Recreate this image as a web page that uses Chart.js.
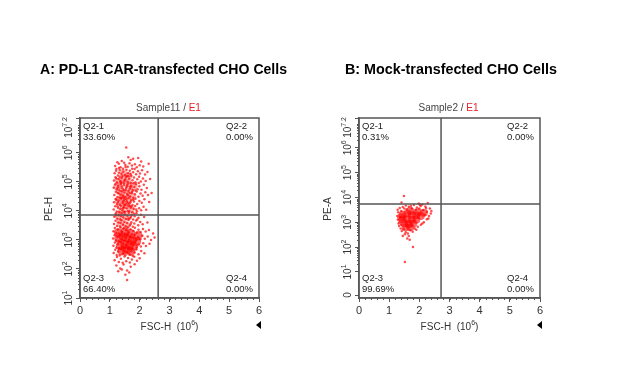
<!DOCTYPE html>
<html>
<head>
<meta charset="utf-8">
<script src="https://cdn.jsdelivr.net/npm/chart.js@4.4.1/dist/chart.umd.min.js"></script>
<style>
  html, body { margin: 0; padding: 0; background: #fff; }
  #wrap { position: relative; width: 629px; height: 388px; overflow: hidden; }
  canvas { position: absolute; top: 0; }
  #chartA { left: 0; }
  #chartB { left: 314px; }
</style>
</head>
<body>
<div id="wrap">
  <canvas id="chartA" width="314" height="388"></canvas>
  <canvas id="chartB" width="315" height="388"></canvas>
</div>
<script>
// axes
const xTicks = [0, 1, 2, 3, 4, 5, 6];
const yTicksA = [1, 2, 3, 4, 5, 6, 7.2];
const yExpA = ["1", "2", "3", "4", "5", "6", "7.2"];
const yTicksB = [0.07, 1, 2, 3, 4, 5, 6, 7.2];
const yExpB = [null, "1", "2", "3", "4", "5", "6", "7.2"];

// quadrant gates (x in 10^6 FSC-H, y in decades)
const gateXA = 2.62, gateYA = 3.86;
const gateXB = 2.72, gateYB = 3.74;

const quadNames = ["Q2-1", "Q2-2", "Q2-3", "Q2-4"];
const quadPctA = ["33.60%", "0.00%", "66.40%", "0.00%"];
const quadPctB = ["0.31%", "0.00%", "99.69%", "0.00%"];

// sample A, PE-H positive group + bridge
const aUpper = [
  [1.55,6.18],[1.62,5.85],[1.78,5.80],[1.95,5.82],[1.40,5.72],[1.25,5.68],[2.05,5.70],[1.70,5.75],
  [1.18,5.55],[1.30,5.62],[1.36,5.50],[1.48,5.66],[1.52,5.58],[1.60,5.52],[1.66,5.64],[1.74,5.56],[1.84,5.61],[1.90,5.50],[2.00,5.57],[2.12,5.53],[2.30,5.62],[1.44,5.45],[1.22,5.44],
  [1.16,5.30],[1.21,5.38],[1.27,5.22],[1.33,5.41],[1.39,5.28],[1.45,5.35],[1.50,5.24],[1.56,5.42],[1.61,5.30],[1.67,5.38],[1.72,5.21],[1.78,5.33],[1.83,5.44],[1.88,5.26],[1.94,5.37],[2.01,5.29],[2.08,5.40],[2.18,5.25],[2.26,5.34],[1.30,5.31],[1.58,5.20],[1.75,5.45],[1.42,5.20],
  [1.14,5.05],[1.19,5.16],[1.24,4.98],[1.29,5.10],[1.35,5.02],[1.40,5.14],[1.46,4.96],[1.51,5.08],[1.55,5.17],[1.60,5.00],[1.65,5.11],[1.70,4.97],[1.76,5.06],[1.81,5.15],[1.86,4.99],[1.92,5.09],[1.98,5.18],[2.04,5.01],[2.11,5.12],[2.20,5.03],[2.35,5.10],[1.33,5.18],[1.63,5.19],[1.48,5.04],
  [1.13,4.80],[1.18,4.91],[1.23,4.74],[1.28,4.86],[1.32,4.70],[1.37,4.93],[1.42,4.78],[1.47,4.88],[1.52,4.72],[1.57,4.84],[1.62,4.94],[1.67,4.76],[1.72,4.87],[1.77,4.71],[1.82,4.82],[1.87,4.92],[1.93,4.75],[1.99,4.85],[2.06,4.73],[2.14,4.90],[2.24,4.79],[1.40,4.85],[1.54,4.79],[1.69,4.82],[1.26,4.80],
  [1.15,4.55],[1.20,4.66],[1.25,4.48],[1.30,4.60],[1.34,4.46],[1.39,4.68],[1.44,4.52],[1.49,4.63],[1.53,4.47],[1.58,4.58],[1.63,4.69],[1.68,4.50],[1.73,4.61],[1.79,4.45],[1.84,4.57],[1.90,4.67],[1.96,4.49],[2.03,4.60],[2.10,4.52],[2.19,4.64],[2.28,4.55],[1.36,4.56],[1.61,4.54],[1.75,4.66],[1.47,4.45],
  [1.14,4.30],[1.19,4.41],[1.24,4.23],[1.29,4.35],[1.33,4.21],[1.38,4.43],[1.43,4.27],[1.48,4.38],[1.52,4.22],[1.57,4.33],[1.62,4.44],[1.66,4.25],[1.71,4.36],[1.76,4.20],[1.81,4.32],[1.86,4.42],[1.92,4.24],[1.99,4.34],[2.07,4.28],[2.16,4.40],[2.32,4.31],[1.27,4.29],[1.55,4.40],[1.69,4.30],[1.45,4.33],
  [1.13,4.05],[1.18,4.16],[1.23,3.98],[1.28,4.10],[1.32,3.96],[1.37,4.18],[1.42,4.02],[1.47,4.13],[1.51,3.97],[1.56,4.08],[1.61,4.19],[1.65,4.00],[1.70,4.11],[1.75,3.95],[1.80,4.07],[1.85,4.17],[1.91,3.99],[1.98,4.09],[2.05,4.02],[2.13,4.14],[2.22,4.04],[1.35,4.07],[1.59,3.99],[1.73,4.15],[1.44,4.09],
  [1.15,3.80],[1.20,3.91],[1.25,3.73],[1.30,3.85],[1.35,3.71],[1.40,3.93],[1.45,3.77],[1.50,3.88],[1.54,3.72],[1.59,3.83],[1.64,3.94],[1.68,3.75],[1.73,3.86],[1.78,3.70],[1.83,3.82],[1.89,3.92],[1.96,3.76],[2.04,3.87],[2.15,3.79],[1.38,3.82],[1.62,3.74],[1.81,3.90],
  [1.14,3.55],[1.19,3.66],[1.24,3.48],[1.29,3.60],[1.34,3.46],[1.39,3.68],[1.44,3.52],[1.49,3.63],[1.53,3.47],[1.58,3.58],[1.63,3.69],[1.67,3.50],[1.72,3.61],[1.77,3.45],[1.82,3.57],[1.88,3.67],[1.95,3.51],[2.02,3.62],[2.10,3.54],[2.26,3.60],[1.36,3.58],[1.70,3.55],
  [1.21,5.12],[1.37,4.99],[1.58,4.90],[1.79,4.95],[1.26,4.62],[1.46,4.72],[1.66,4.62],[1.86,4.70],[1.22,4.38],[1.41,4.46],[1.60,4.26],[1.78,4.38],
  [1.26,4.15],[1.49,4.20],[1.67,4.17],[1.88,4.05],[1.21,3.85],[1.47,3.96],[1.71,3.80],[1.92,3.70],[1.31,5.48],[1.53,5.51],[1.69,5.27],[1.97,4.96],[2.40,4.62]
];

// sample A, PE-H negative group
const aLower = [
  [1.12,3.30],[1.17,3.41],[1.22,3.24],[1.27,3.36],[1.31,3.22],[1.36,3.43],[1.41,3.28],[1.46,3.39],[1.50,3.21],[1.55,3.33],[1.60,3.44],[1.64,3.26],[1.69,3.37],[1.74,3.20],[1.79,3.31],[1.84,3.42],[1.90,3.25],[1.96,3.35],[2.03,3.27],[2.11,3.38],[2.20,3.29],[2.31,3.34],[2.45,3.22],
  [1.11,3.05],[1.16,3.16],[1.21,2.98],[1.26,3.10],[1.30,2.96],[1.35,3.18],[1.40,3.02],[1.45,3.13],[1.49,2.97],[1.54,3.08],[1.59,3.19],[1.63,3.00],[1.68,3.11],[1.73,2.95],[1.78,3.07],[1.83,3.17],[1.89,2.99],[1.95,3.09],[2.02,3.02],[2.09,3.14],[2.17,3.04],[2.27,3.12],[2.38,3.00],[2.50,3.08],
  [1.12,2.80],[1.17,2.91],[1.22,2.73],[1.27,2.85],[1.31,2.71],[1.36,2.93],[1.41,2.77],[1.46,2.88],[1.50,2.72],[1.55,2.83],[1.60,2.94],[1.64,2.75],[1.69,2.86],[1.74,2.70],[1.79,2.82],[1.84,2.92],[1.90,2.74],[1.97,2.84],[2.04,2.77],[2.12,2.89],[2.21,2.79],[2.33,2.87],
  [1.13,2.55],[1.18,2.66],[1.23,2.48],[1.28,2.60],[1.33,2.46],[1.38,2.68],[1.43,2.52],[1.48,2.63],[1.52,2.47],[1.57,2.58],[1.62,2.69],[1.67,2.50],[1.72,2.61],[1.77,2.45],[1.83,2.57],[1.89,2.67],[1.96,2.51],[2.05,2.62],[2.16,2.54],
  [1.16,2.30],[1.24,2.41],[1.30,2.24],[1.37,2.35],[1.43,2.21],[1.49,2.43],[1.55,2.27],[1.61,2.38],[1.67,2.22],[1.74,2.33],[1.82,2.42],[1.91,2.28],[2.00,2.37],
  [1.22,2.12],[1.35,2.02],[1.46,2.15],[1.58,1.95],[1.70,2.08],[1.83,2.16],[1.28,1.92],[1.52,1.80],[1.58,1.62],[1.65,1.88],[1.40,1.98]
];

// dense centres of sample A (drawn as larger soft dots)
const aCoreLow = [
  [1.30,3.05],[1.45,3.10],[1.60,3.05],[1.75,3.00],[1.90,2.95],[1.35,2.80],[1.50,2.85],[1.65,2.80],
  [1.80,2.78],[1.40,2.62],[1.55,2.65],[1.70,2.60],[1.28,3.25],[1.50,3.28],[1.70,3.22],[1.95,3.15]
];
const aCoreHigh = [
  [1.30,5.00],[1.45,5.05],[1.60,4.95],[1.35,4.70],[1.50,4.60],[1.65,4.75],[1.30,4.35],[1.45,4.20],
  [1.60,4.40],[1.75,4.50],[1.40,3.95],[1.55,3.80],[1.70,4.05],[1.35,3.60],[1.55,3.50],[1.45,5.30],
  [1.25,4.85],[1.55,4.20],[1.40,4.45],[1.80,4.85],[1.62,5.20],[1.28,3.85]
];

// sample B (mock)
const bCells = [
  [1.49,4.06],[2.28,3.78],[2.10,3.72],[1.82,3.70],[1.55,3.68],[1.35,3.58],[1.45,3.62],[1.65,3.63],[1.92,3.60],[2.05,3.66],
  [2.20,3.64],[2.35,3.55],[2.40,3.45],[1.28,3.50],[1.30,3.40],[1.27,3.25],[1.29,3.10],[1.31,2.95],[1.33,2.85],[1.38,2.75],
  [1.42,2.65],[1.48,2.72],[1.55,2.60],[1.62,2.55],[1.70,2.68],[1.78,2.62],[1.85,2.75],[1.95,2.82],[2.05,2.90],[2.15,3.00],
  [2.25,3.12],[2.32,3.25],[2.38,3.35],[1.79,2.00],[1.52,1.40],[1.60,2.35],[1.45,2.45],[1.68,2.30],[2.00,3.55],[2.12,3.48],
  [2.25,3.42],[1.40,3.45],[1.58,3.52],[1.75,3.55],[1.88,3.50],[2.18,3.30],[2.30,3.15],[1.36,3.20],[1.34,3.00],[1.40,2.90],
  [2.02,3.70],[1.98,3.76],[2.22,3.58],[1.72,3.66],[1.50,3.55],[2.10,2.95],[1.90,2.70],[1.65,2.45],[1.52,2.52],[1.41,3.80]
];
const bCore = [
  [1.45,3.30],[1.60,3.35],[1.75,3.30],[1.90,3.28],[2.05,3.25],[1.45,3.10],[1.60,3.12],[1.75,3.10],[1.90,3.10],
  [1.50,2.95],[1.65,2.92],[1.80,2.95],[1.95,3.40],[1.70,3.45],[2.15,3.38],[1.40,3.20],[1.55,2.80],[1.70,2.80]
];

const toXY = arr => arr.map(p => ({ x: p[0], y: p[1] }));
const FONT = "'Liberation Sans', Arial, sans-serif";
const INK = "#333";
const FRAME = "#555";

function drawSup(ctx, base, exp, x, y, size, align) {
  ctx.font = size + "px " + FONT;
  const wb = ctx.measureText(base).width;
  ctx.font = Math.round(size * 0.7) + "px " + FONT;
  const we = exp ? ctx.measureText(exp).width : 0;
  const total = wb + we;
  let x0 = align === "center" ? x - total / 2 : x;
  ctx.textAlign = "left";
  ctx.textBaseline = "middle";
  ctx.font = size + "px " + FONT;
  ctx.fillText(base, x0, y);
  if (exp) {
    ctx.font = Math.round(size * 0.7) + "px " + FONT;
    ctx.fillText(exp, x0 + wb, y - size * 0.35);
  }
  return total;
}

const overlay = {
  id: "overlay",
  afterDraw(chart, args, o) {
    const ctx = chart.ctx;
    const a = chart.chartArea;
    const xs = chart.scales.x, ys = chart.scales.y;
    ctx.save();

    // frame
    ctx.strokeStyle = FRAME;
    ctx.lineWidth = 1.5;
    ctx.strokeRect(a.left, a.top, a.right - a.left, a.bottom - a.top);

    // minor ticks
    ctx.lineWidth = 1;
    ctx.beginPath();
    for (let v = 0; v <= 6.001; v += 0.2) {
      const px = Math.round(xs.getPixelForValue(v)) + 0.5;
      ctx.moveTo(px, a.bottom);
      ctx.lineTo(px, a.bottom + 2);
    }
    for (let d = 1; d < 7.2; d++) {
      for (let m = 2; m <= 9; m++) {
        const v = d + Math.log10(m);
        if (v > ys.max) break;
        const py = Math.round(ys.getPixelForValue(v)) + 0.5;
        ctx.moveTo(a.left, py);
        ctx.lineTo(a.left - 2, py);
      }
    }
    ctx.stroke();

    // rotated y labels
    ctx.fillStyle = INK;
    o.yTicks.forEach((v, i) => {
      let py = ys.getPixelForValue(v);
      const exp = o.yExp[i];
      ctx.save();
      ctx.font = "10px " + FONT;
      let w = ctx.measureText(exp === null ? "0" : "10").width;
      ctx.font = "7px " + FONT;
      if (exp) w += ctx.measureText(exp).width;
      if (py - w / 2 < a.top - 1) py = a.top - 1 + w / 2;
      ctx.translate(a.left - 11, py);
      ctx.rotate(-Math.PI / 2);
      if (exp === null) {
        drawSup(ctx, "0", null, 0, 0, 10, "center");
      } else {
        drawSup(ctx, "10", exp, 0, 0, 10, "center");
      }
      ctx.restore();
    });

    // titles
    ctx.fillStyle = "#000";
    ctx.font = "bold 15px " + FONT;
    ctx.textAlign = "left";
    ctx.textBaseline = "alphabetic";
    ctx.fillText(o.title, o.titleX, 74, o.titleW);

    // sample label
    ctx.font = "10px " + FONT;
    const s1 = o.sample + " / ", s2 = "E1";
    const w1 = ctx.measureText(s1).width, w2 = ctx.measureText(s2).width;
    const cx = (a.left + a.right) / 2 - 1;
    ctx.textBaseline = "middle";
    ctx.fillStyle = "#444";
    ctx.fillText(s1, cx - (w1 + w2) / 2, a.top - 10);
    ctx.fillStyle = "#e8202a";
    ctx.fillText(s2, cx - (w1 + w2) / 2 + w1, a.top - 10);

    // quadrant labels
    ctx.fillStyle = "#222";
    ctx.font = "9.5px " + FONT;
    const qx = [a.left + 3, a.right - 33, a.left + 3, a.right - 33];
    const qy = [a.top + 8, a.top + 8, a.bottom - 20, a.bottom - 20];
    quadNames.forEach((q, i) => {
      ctx.fillText(q, qx[i], qy[i]);
      ctx.fillText(o.pct[i], qx[i], qy[i] + 11);
    });

    // axis titles
    ctx.fillStyle = "#333";
    ctx.save();
    ctx.translate(a.left - 31, (a.top + a.bottom) / 2 + 1);
    ctx.rotate(-Math.PI / 2);
    ctx.font = "10px " + FONT;
    ctx.textAlign = "center";
    ctx.fillText(o.yTitle, 0, 0);
    ctx.restore();
    ctx.font = "10px " + FONT;
    const wFsc = ctx.measureText("FSC-H  (10").width;
    ctx.font = "7px " + FONT;
    const wSix = ctx.measureText("6").width;
    ctx.font = "10px " + FONT;
    const wPar = ctx.measureText(")").width;
    let fx = (a.left + a.right) / 2 - (wFsc + wSix + wPar) / 2;
    const fy = a.bottom + 29;
    ctx.textAlign = "left";
    ctx.fillText("FSC-H  (10", fx, fy);
    ctx.font = "7px " + FONT;
    ctx.fillText("6", fx + wFsc, fy - 4);
    ctx.font = "10px " + FONT;
    ctx.fillText(")", fx + wFsc + wSix, fy);

    // small marker triangle
    ctx.fillStyle = "#000";
    ctx.beginPath();
    ctx.moveTo(a.right - 3, a.bottom + 27);
    ctx.lineTo(a.right + 2, a.bottom + 23);
    ctx.lineTo(a.right + 2, a.bottom + 31);
    ctx.closePath();
    ctx.fill();

    ctx.restore();
  }
};

function makeChart(id, cfg) {
  const datasets = [
    { data: [{ x: cfg.gateX, y: cfg.yMin }, { x: cfg.gateX, y: cfg.yMax }], showLine: true, borderColor: FRAME, borderWidth: 1.5, pointRadius: 0 },
    { data: [{ x: 0, y: cfg.gateY }, { x: 6, y: cfg.gateY }], showLine: true, borderColor: FRAME, borderWidth: 1.5, pointRadius: 0 }
  ];
  cfg.dots.forEach(d => datasets.push({ data: toXY(d), pointRadius: 1.25, backgroundColor: "rgba(255,0,0,0.7)", borderWidth: 0 }));
  cfg.cores.forEach(d => datasets.push({ data: toXY(d[0]), pointRadius: d[1], backgroundColor: d[2], borderWidth: 0 }));

  return new Chart(document.getElementById(id), {
    type: "scatter",
    data: { datasets },
    options: {
      responsive: false,
      animation: false,
      layout: { padding: { left: 0, top: 118, right: cfg.padRight, bottom: 0 } },
      plugins: {
        legend: { display: false },
        tooltip: { enabled: false },
        overlay: cfg.overlay
      },
      scales: {
        x: {
          type: "linear", min: 0, max: 6,
          afterBuildTicks: s => { s.ticks = xTicks.map(v => ({ value: v })); },
          afterFit: s => { s.height = 90; },
          grid: { drawOnChartArea: false, tickLength: 4, color: FRAME },
          border: { color: FRAME, width: 1.5 },
          ticks: { color: INK, font: { family: FONT, size: 11 }, padding: 2, maxRotation: 0, autoSkip: false }
        },
        y: {
          type: "linear", min: cfg.yMin, max: cfg.yMax,
          afterBuildTicks: s => { s.ticks = cfg.overlay.yTicks.map(v => ({ value: v })); },
          afterFit: s => { s.width = cfg.yWidth; },
          grid: { drawOnChartArea: false, tickLength: 4, color: FRAME },
          border: { color: FRAME, width: 1.5 },
          ticks: { display: false }
        }
      }
    },
    plugins: [overlay]
  });
}

makeChart("chartA", {
  gateX: gateXA, gateY: gateYA, yMin: 1, yMax: 7.2, yWidth: 80, padRight: 55,
  dots: [aUpper, aLower],
  cores: [[aCoreHigh, 4, "rgba(255,0,0,0.3)"], [aCoreLow, 4.5, "rgba(255,0,0,0.6)"]],
  overlay: { title: "A: PD-L1 CAR-transfected CHO Cells", titleX: 40, titleW: 247, sample: "Sample11",
    yTitle: "PE-H", yTicks: yTicksA, yExp: yExpA, pct: quadPctA }
});

makeChart("chartB", {
  gateX: gateXB, gateY: gateYB, yMin: -0.05, yMax: 7.2, yWidth: 45, padRight: 89,
  dots: [bCells],
  cores: [[bCore, 4, "rgba(255,0,0,0.6)"]],
  overlay: { title: "B: Mock-transfected CHO Cells", titleX: 31, titleW: 212, sample: "Sample2",
    yTitle: "PE-A", yTicks: yTicksB, yExp: yExpB, pct: quadPctB }
});
</script>
</body>
</html>
